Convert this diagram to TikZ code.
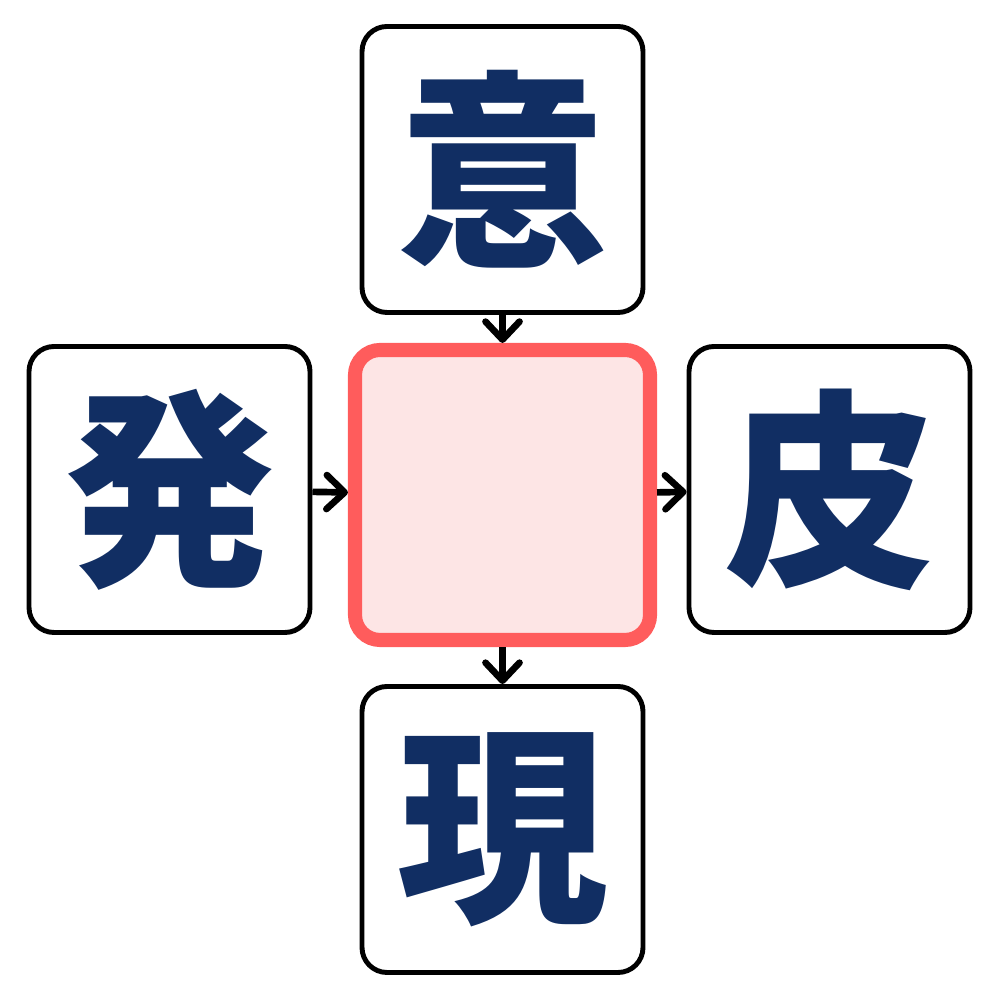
\documentclass[tikz,border=0pt]{standalone}
\usepackage{fontspec}
\newfontfamily\cjk{Noto Sans CJK JP}
\usepackage{tikz}
\usetikzlibrary{arrows.meta}
\definecolor{kanjiblue}{HTML}{112E63}
\definecolor{boxred}{HTML}{FF5C5C}
\definecolor{boxpink}{HTML}{FDE5E5}
\begin{document}
\begin{tikzpicture}

\tikzset{word/.style = {shape=rectangle,draw,line width=1.4pt,rounded corners=2.5mm,
  minimum width=2.81cm,minimum height=2.86cm,text=kanjiblue,font=\cjk\bfseries\fontsize{60}{60}\selectfont}}
\tikzset{blank/.style = {shape=rectangle,draw=boxred,fill=boxpink,line width=4pt,
  rounded corners=2.5mm,minimum width=2.95cm,minimum height=2.9cm}}
\tikzset{edge/.style = {-{Straight Barb[length=1.8mm,width=3.4mm,round]},line width=1.9pt}}

\useasboundingbox (0,0) rectangle (10,10);

\node[blank] (c) at (5.025,5.05) {};
\node[word] (t) at (5.025,8.305) {意};
\node[word] (l) at (1.695,5.105) {発};
\node[word] (r) at (8.295,5.105) {皮};
\node[word] (b) at (5.025,1.705) {現};

\draw[edge] (t) to (c);
\draw[edge] (l) to (c);
\draw[edge] (c) to (r);
\draw[edge] (c) to (b);

\end{tikzpicture}
\end{document}
